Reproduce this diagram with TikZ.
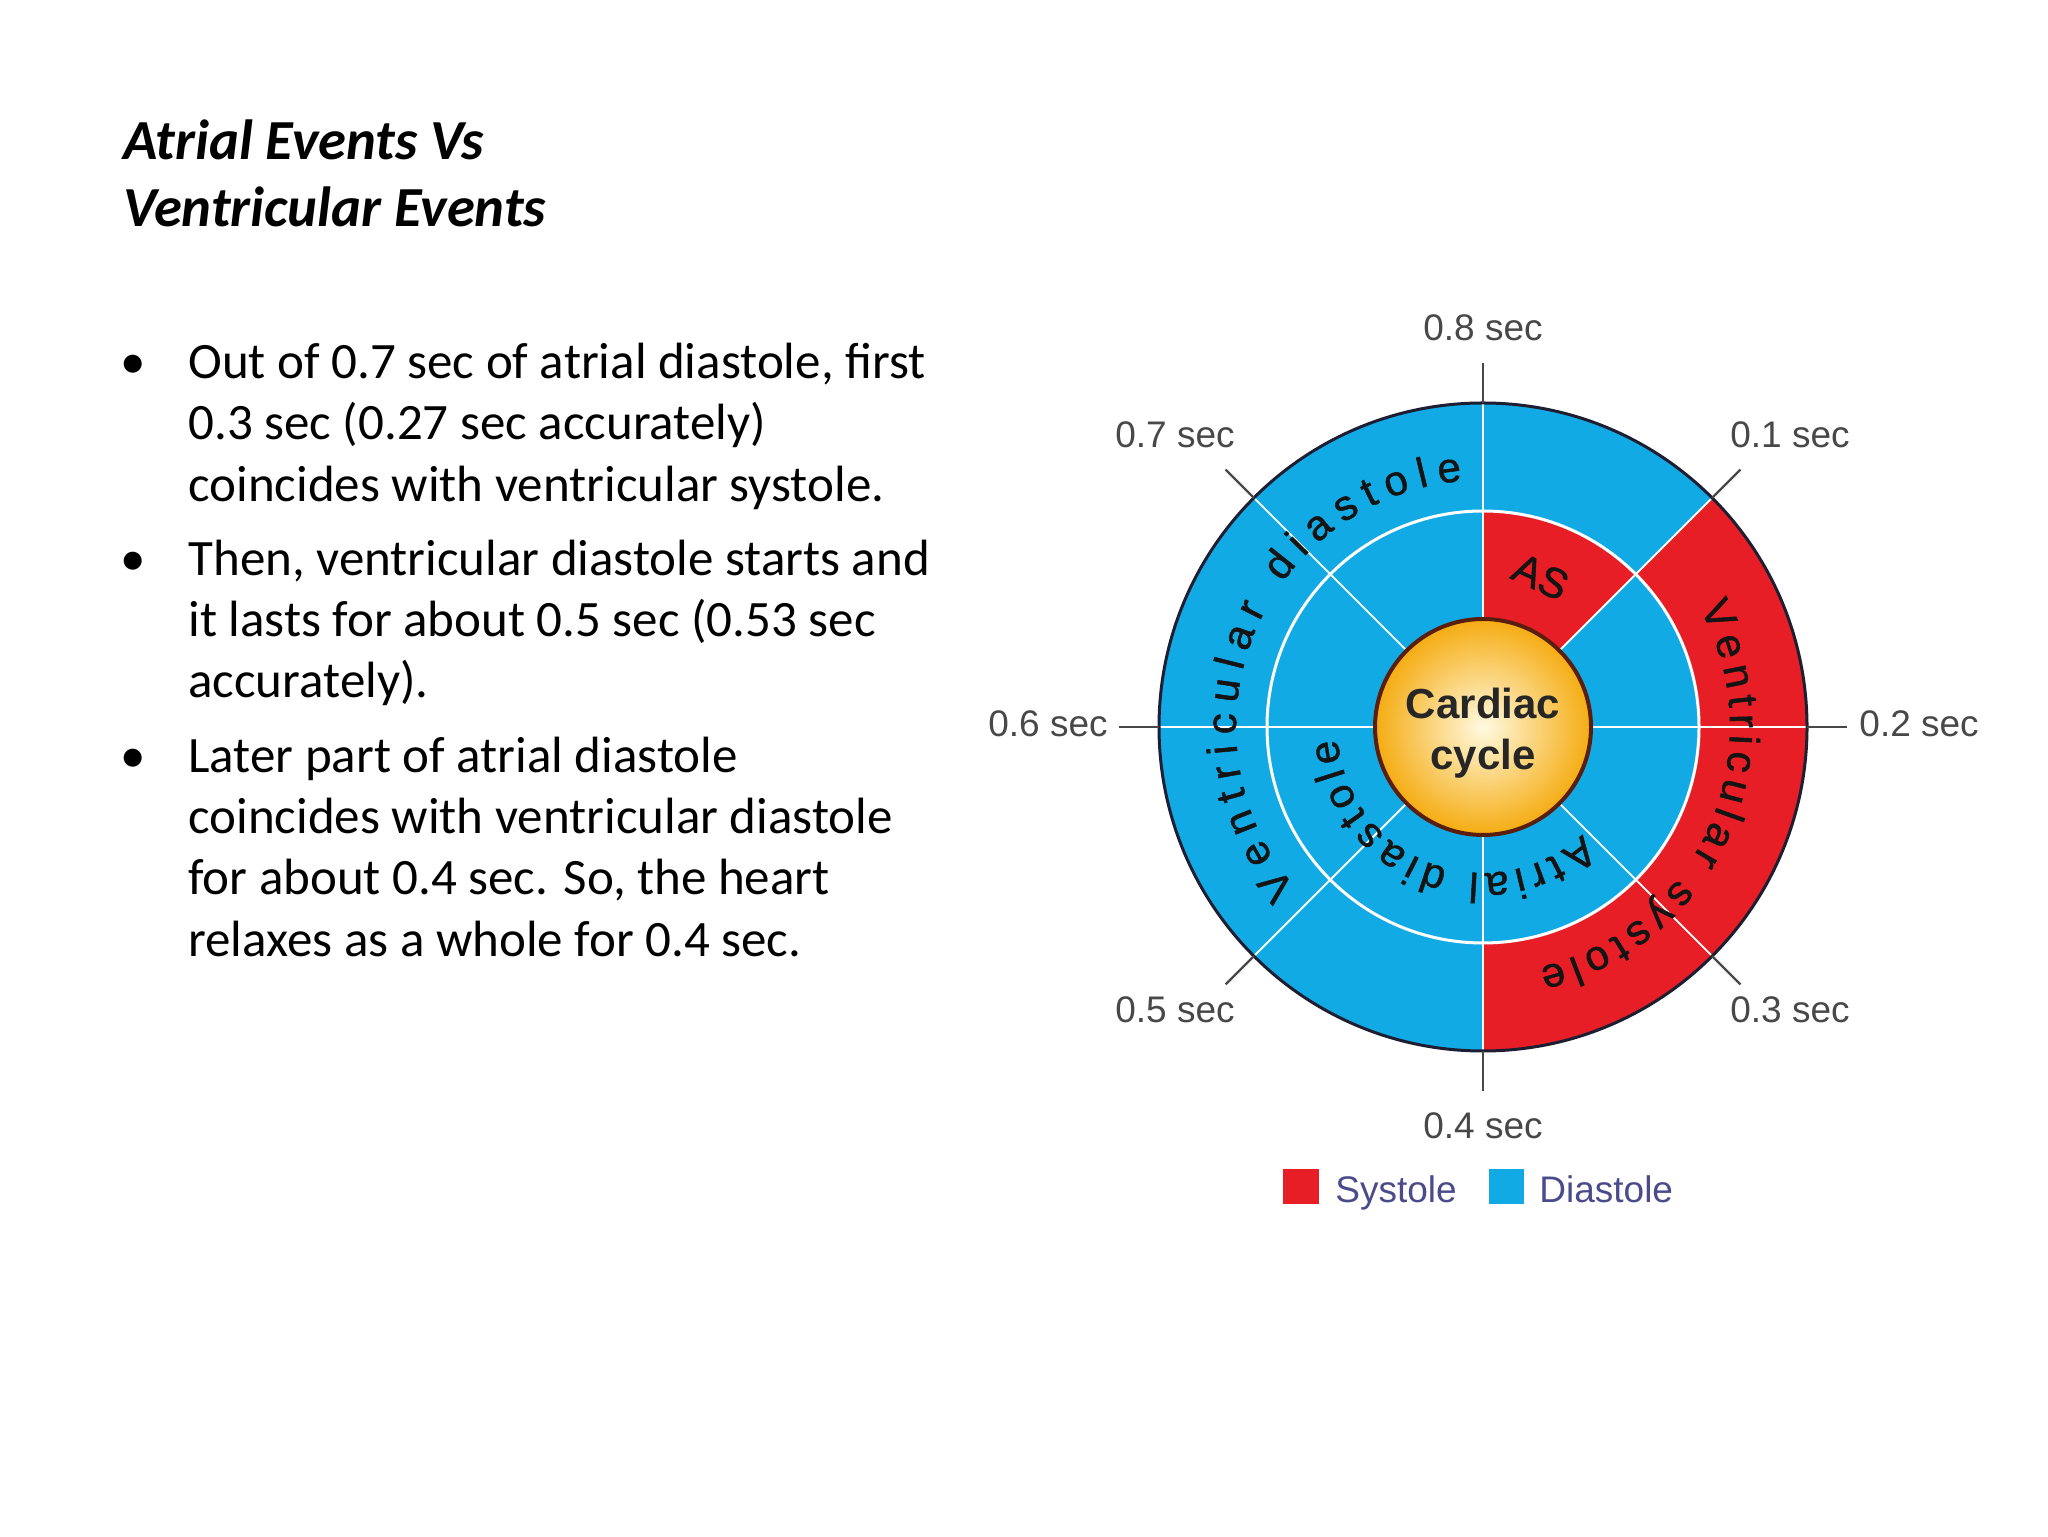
\documentclass[tikz,border=0pt]{standalone}
\usepackage{fontspec}
\setmainfont{Carlito}
\newfontfamily\arialf{Liberation Sans}
\newfontfamily\arialring[FakeBold=1.2]{Liberation Sans}
\usetikzlibrary{decorations.text}
\definecolor{cblue}{RGB}{17,170,228}
\definecolor{cred}{RGB}{232,30,38}
\definecolor{ygold}{RGB}{245,172,18}
\definecolor{ylight}{RGB}{255,250,225}
\definecolor{ybrd}{RGB}{90,30,15}
\definecolor{ringbrd}{RGB}{30,30,50}
\definecolor{labgray}{RGB}{72,72,72}
\definecolor{legtext}{RGB}{75,75,140}
\newcommand{\ringfnt}{\arialring\fontsize{21}{21}\selectfont\color[RGB]{20,20,20}}
\begin{document}
\begin{tikzpicture}[x=0.5pt,y=0.5pt,
  lbl/.style={font=\arialf\fontsize{18.5}{20}\selectfont, text=labgray, inner sep=0pt, anchor=base},
  legl/.style={font=\arialf\fontsize{18.5}{20}\selectfont, text=legtext, inner sep=0pt, anchor=base west},
  bodyl/.style={font=\fontsize{25.5}{30}\selectfont, inner sep=0pt, anchor=base west},
  ttl/.style={font=\bfseries\itshape\fontsize{28.3}{33}\selectfont, inner sep=0pt, anchor=base west},
  tickl/.style={labgray, line width=1.2pt},
  wline/.style={white, line width=0.9pt},
  ctr/.style={font=\arialf\bfseries\fontsize{21}{22}\selectfont, text=black!85, inner sep=0pt, anchor=base}]
\fill[white] (0,0) rectangle (2048,1536);
\useasboundingbox (0,0) rectangle (2048,1536);

% ---- left text ----
\node[ttl] (t1) at (123,1376) {Atrial Events Vs};
\node[ttl] (t2) at (123,1309) {Ventricular Events};

\node[bodyl] (b1) at (120,1157) {•};
\node[bodyl] (l1) at (188,1157) {Out of 0.7 sec of atrial diastole, first};
\node[bodyl] (l2) at (188,1096) {0.3 sec (0.27 sec accurately)};
\node[bodyl] (l3) at (188,1034) {coincides with ventricular systole.};
\node[bodyl] (b2) at (120,960) {•};
\node[bodyl] (l4) at (188,960) {Then, ventricular diastole starts and};
\node[bodyl] (l5) at (188,899) {it lasts for about 0.5 sec (0.53 sec};
\node[bodyl] (l6) at (188,838) {accurately).};
\node[bodyl] (b3) at (120,763) {•};
\node[bodyl] (l7) at (188,763) {Later part of atrial diastole};
\node[bodyl] (l8) at (188,702) {coincides with ventricular diastole};
\node[bodyl] (l9) at (188,641) {for about 0.4 sec. So, the heart};
\node[bodyl] (l10) at (188,579) {relaxes as a whole for 0.4 sec.};

% ---- cardiac cycle wheel ----
\begin{scope}[shift={(1483,809)}]
  \fill[cblue] (0,0) circle[radius=324];
  \fill[cred] (0,0) -- (45:324) arc[start angle=45, end angle=-90, radius=324] -- cycle;
  \fill[cblue] (0,0) circle[radius=216];
  \fill[cred] (0,0) -- (45:216) arc[start angle=45, end angle=90, radius=216] -- cycle;
  \foreach \a in {0,45,...,315} \draw[wline] (\a:100) -- (\a:323);
  \draw[white, line width=1.5pt] (0,0) circle[radius=216];
  \draw[ringbrd, line width=1.5pt] (0,0) circle[radius=324];
  \foreach \a in {0,45,...,315} {
    \coordinate (ti\a) at (\a:324);
    \coordinate (to\a) at (\a:364);
    \draw[tickl] (ti\a) -- (to\a);
  }
  \shade[inner color=ylight, outer color=ygold] (0,0) circle[radius=108];
  \draw[ybrd, line width=2pt] (0,0) circle[radius=108];
  \node[ctr] (c1) at (0,8) {Cardiac};
  \node[ctr] (c2) at (0,-43) {cycle};
  \node[font=\ringfnt, rotate=-25, inner sep=0pt] (as) at (69:161) {AS};
  \path[decorate, decoration={text along path, text={|\ringfnt|Ventricular diastole}, text align={fit to path}}]
    (220.8:247) arc[start angle=220.8, end angle=94.8, radius=247];
  \path[decorate, decoration={text along path, text={|\ringfnt|Ventricular systole}, text align={fit to path}}]
    (28.8:247) arc[start angle=28.8, end angle=-76.9, radius=247];
  \path[decorate, decoration={text along path, text={|\ringfnt|Atrial diastole}, text align={fit to path}}]
    (-47.2:146) arc[start angle=-47.2, end angle=-175.3, radius=146];
\end{scope}

% ---- time labels ----
\node[lbl] (s8) at (1483,1195) {0.8 sec};
\node[lbl] (s7) at (1175,1088) {0.7 sec};
\node[lbl] (s1) at (1790,1088) {0.1 sec};
\node[lbl, anchor=base east] (s6) at (1108,799) {0.6 sec};
\node[lbl, anchor=base west] (s2) at (1859,799) {0.2 sec};
\node[lbl] (s5) at (1175,513) {0.5 sec};
\node[lbl] (s3) at (1790,513) {0.3 sec};
\node[lbl] (s4) at (1483,397) {0.4 sec};

% ---- legend ----
\fill[cred] (1283,332) rectangle (1319,367);
\node[legl] (ls) at (1335,333) {Systole};
\fill[cblue] (1489,332) rectangle (1524,367);
\node[legl] (ld) at (1539,333) {Diastole};
\end{tikzpicture}
\end{document}
